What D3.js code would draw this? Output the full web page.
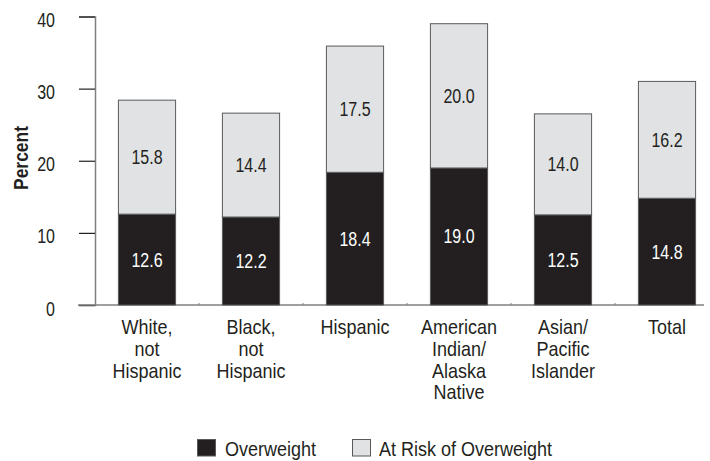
<!DOCTYPE html>
<html>
<head>
<meta charset="utf-8">
<script src="https://cdn.jsdelivr.net/npm/d3@7"></script>
<style>
  html, body { margin: 0; padding: 0; background: #fff; }
  svg { display: block; }
  text { font-family: "Liberation Sans", Arial, sans-serif; fill: #231f20; }
</style>
</head>
<body>
<svg id="chart" width="710" height="461"></svg>
<script>
const categories = [
  ["White,", "not", "Hispanic"],
  ["Black,", "not", "Hispanic"],
  ["Hispanic"],
  ["American", "Indian/", "Alaska", "Native"],
  ["Asian/", "Pacific", "Islander"],
  ["Total"]
];
const overweight = [12.6, 12.2, 18.4, 19.0, 12.5, 14.8];
const atRisk = [15.8, 14.4, 17.5, 20.0, 14.0, 16.2];
const yTicks = [0, 10, 20, 30, 40];
const seriesNames = ["Overweight", "At Risk of Overweight"];

const colors = { over: "#231f20", risk: "#e1e2e3", stroke: "#58595b", axis: "#808080" };
const NUM_SX = 0.8, TXT_SX = 0.9;

const svg = d3.select("#chart");
const x0 = 95, yBase = 305;

const x = d3.scaleBand()
  .domain(d3.range(categories.length))
  .range([x0, x0 + 104 * categories.length])
  .paddingInner(0.45)
  .paddingOuter(0.225);

const y = d3.scaleLinear().domain([0, 40]).range([yBase, 16.5]);

function label(parent, px, py, str, opts) {
  const t = parent.append("text")
    .attr("transform", `translate(${px},${py}) scale(${opts.sx},1)`)
    .attr("text-anchor", opts.anchor || "middle")
    .attr("font-size", opts.size || 20)
    .text(str);
  if (opts.fill) t.style("fill", opts.fill);
  if (opts.weight) t.attr("font-weight", opts.weight);
  return t;
}

// Y axis
const yAxis = d3.axisLeft(y).tickValues(yTicks).tickSize(16).tickFormat(d3.format("d"));
const gy = svg.append("g").attr("transform", `translate(${x0},0)`).call(yAxis);
gy.select(".domain").attr("stroke", colors.axis).attr("stroke-width", 1.5);
gy.selectAll(".tick line").attr("stroke", "#231f20").attr("stroke-width", 1.2);
gy.selectAll(".tick text")
  .attr("x", null).attr("dy", null)
  .attr("font-family", null)
  .attr("font-size", 20)
  .attr("text-anchor", "end")
  .attr("transform", `translate(-40,10) scale(${NUM_SX},1)`);
gy.attr("font-family", null).attr("font-size", null);

// Baseline
svg.append("line")
  .attr("x1", 78).attr("x2", 704)
  .attr("y1", y(0)).attr("y2", y(0))
  .attr("stroke", colors.axis).attr("stroke-width", 1.5);

// small separator ticks
svg.selectAll(".sep").data(d3.range(1, categories.length))
  .enter().append("line")
  .attr("x1", i => x0 + x.step() * i)
  .attr("x2", i => x0 + x.step() * i)
  .attr("y1", y(0)).attr("y2", y(0) - 2)
  .attr("stroke", colors.axis).attr("stroke-width", 1);

// Bars
const g = svg.append("g");
categories.forEach((c, i) => {
  const o = overweight[i], r = atRisk[i];
  const cx = x(i) + x.bandwidth() / 2;
  g.append("rect")
    .attr("x", x(i)).attr("width", x.bandwidth())
    .attr("y", y(o)).attr("height", y(0) - y(o))
    .attr("fill", colors.over).attr("stroke", colors.stroke).attr("stroke-width", 1);
  g.append("rect")
    .attr("x", x(i)).attr("width", x.bandwidth())
    .attr("y", y(o + r)).attr("height", y(o) - y(o + r))
    .attr("fill", colors.risk).attr("stroke", colors.stroke).attr("stroke-width", 1);
  label(g, cx, (y(0) + y(o)) / 2 + 7, o.toFixed(1), { sx: NUM_SX, fill: "#ffffff" });
  label(g, cx, (y(o) + y(o + r)) / 2 + 7, r.toFixed(1), { sx: NUM_SX });
});

// Category labels
categories.forEach((lines, i) => {
  const cx = x(i) + x.bandwidth() / 2;
  lines.forEach((ln, k) => {
    label(svg, cx, 334 + k * 21.8, ln, { sx: TXT_SX });
  });
});

// Y title
svg.append("text")
  .attr("transform", `translate(28,158) rotate(-90) scale(0.83,1)`)
  .attr("text-anchor", "middle")
  .attr("font-size", 21).attr("font-weight", "bold")
  .text("Percent");

// Legend
const legend = [
  { name: seriesNames[0], fill: colors.over, x: 197.5, tx: 225 },
  { name: seriesNames[1], fill: colors.risk, x: 352.5, tx: 379 }
];
legend.forEach(l => {
  svg.append("rect").attr("x", l.x).attr("y", 439.5).attr("width", 18).attr("height", 16.5)
    .attr("fill", l.fill).attr("stroke", colors.stroke).attr("stroke-width", 1);
  label(svg, l.tx, 456, l.name, { sx: TXT_SX, anchor: "start" });
});
</script>
</body>
</html>
